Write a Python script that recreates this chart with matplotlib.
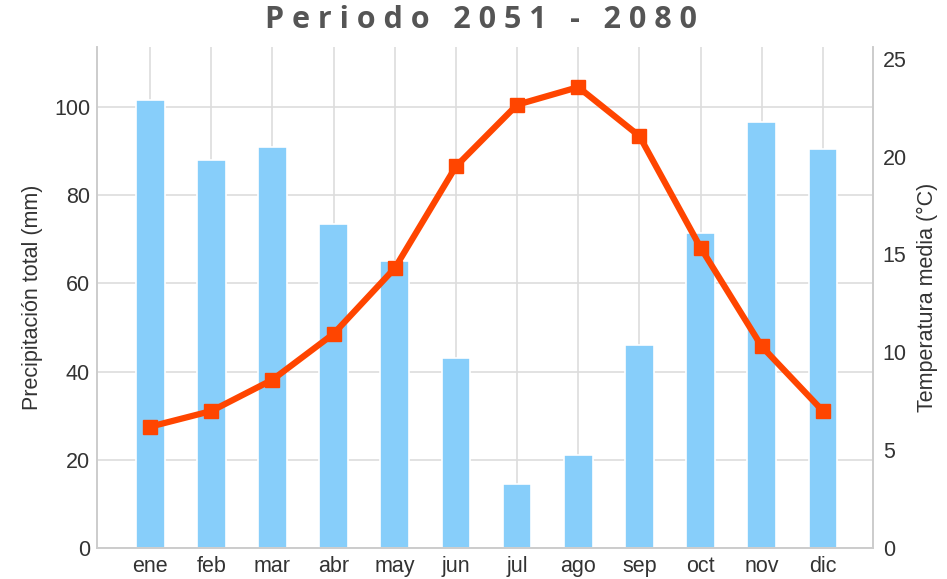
import matplotlib
matplotlib.use("Agg")
import matplotlib.pyplot as plt
import numpy as np

months = ["ene", "feb", "mar", "abr", "may", "jun", "jul", "ago", "sep", "oct", "nov", "dic"]
precip = [101.5, 88, 91, 73.5, 65, 43, 14.5, 21, 46, 71.5, 96.5, 90.5]
temp = [6.2, 7.0, 8.6, 10.95, 14.3, 19.5, 22.65, 23.55, 21.05, 15.35, 10.3, 7.0]

plt.rcParams["font.family"] = ["Liberation Sans", "DejaVu Sans"]

fig = plt.figure(figsize=(9.47, 5.79), dpi=100)
ax = fig.add_axes([0.1024, 0.0535, 0.8195, 0.8653])
x = np.arange(len(months))

ax.set_axisbelow(True)
ax.bar(x, precip, width=0.47, color="#87CEFA", edgecolor="white", linewidth=1.2, zorder=2)
ax.set_xlim(-0.87, 11.82)
ax.set_ylim(0, 113.6)
ax.set_yticks([0, 20, 40, 60, 80, 100])
ax.set_xticks(x)
ax.set_xticklabels(months)
ax.grid(True, color="#dddddd", linewidth=1.2, zorder=0)
ax.set_ylabel("Precipitación total (mm)", fontsize=15.5, color="#333333")
ax.yaxis.set_label_coords(-0.07, 0.5)

ax2 = ax.twinx()
ax2.plot(x, temp, color="#FF4500", linewidth=4.5, marker="s", markersize=10, zorder=3)
ax2.set_ylim(0, 25.6)
ax2.set_yticks([0, 5, 10, 15, 20, 25])
ax2.set_ylabel("Temperatura media (°C)", fontsize=15.5, color="#333333")
ax2.yaxis.set_label_coords(1.057, 0.5)

ax.tick_params(axis="y", length=0, labelsize=15.5, labelcolor="#333333", pad=5)
ax.tick_params(axis="x", length=0, labelsize=15.5, labelcolor="#333333", pad=6)
ax2.tick_params(axis="y", length=0, labelsize=15.5, labelcolor="#333333", pad=7)
for a in (ax, ax2):
    a.spines["top"].set_visible(False)
    for s in ("left", "right", "bottom"):
        a.spines[s].set_color("#cccccc")
        a.spines[s].set_linewidth(1.2)

fig.text(0.508, 0.965, "P e r i o d o   2 0 5 1   -   2 0 8 0", ha="center", va="center",
         fontsize=22, fontweight="bold", color="#555555", family=["Open Sans", "DejaVu Sans"])

fig.savefig("out.png", dpi=100)
plt.close(fig)
